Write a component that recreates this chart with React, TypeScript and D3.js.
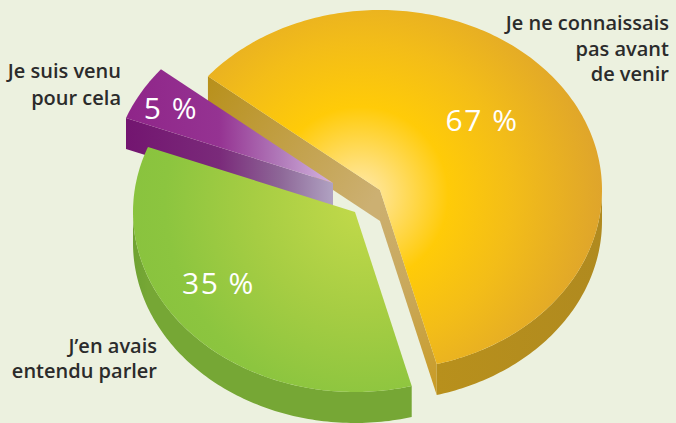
import React from "react";
import * as d3 from "d3";

// ---------- data ----------
const categories = [
  "Je ne connaissais pas avant de venir",
  "J’en avais entendu parler",
  "Je suis venu pour cela",
];
const percentLabels = [67, 35, 5];
// angular share of each slice as measured on the picture
const sliceShares = [60, 35, 5];
const categoryLines = [
  ["Je ne connaissais", "pas avant", "de venir"],
  ["J’en avais", "entendu parler"],
  ["Je suis venu", "pour cela"],
];

// ---------- layout ----------
const W = 676;
const H = 423;
const RX = 222;
const RY = 180;
const DEPTH = 31;
const BASE = { x: 380, y: 190 };
const START = (-50.8 * Math.PI) / 180;
const explode = [
  [0, 0],
  [-25, 22],
  [-47, -7],
];
const labelPolar = [
  { a: 50, r: 0.6 },
  { a: 237.4, r: 0.73 },
  { a: 299.6, r: 0.84 },
];
const catLabelPos = [
  { x: 669, y: 30, dy: 25.5 },
  { x: 157, y: 353, dy: 25 },
  { x: 121, y: 78, dy: 26.5 },
];

const toRad = (d: number) => (d * Math.PI) / 180;

export default function App() {
  const pie = d3
    .pie<number>()
    .sort(null)
    .startAngle(START)
    .endAngle(START + 2 * Math.PI)(sliceShares);

  const line = d3.line<[number, number]>();

  const slices = pie.map((p, i) => {
    const cx = BASE.x + explode[i][0];
    const cy = BASE.y + explode[i][1];
    const pt = (a: number, dz = 0): [number, number] => [
      cx + RX * Math.sin(a),
      cy - RY * Math.cos(a) + dz,
    ];
    const arcPts = (a0: number, a1: number, dz = 0) => {
      const n = Math.max(2, Math.ceil((Math.abs(a1 - a0) * 180) / Math.PI));
      return d3.range(n + 1).map((k) => pt(a0 + ((a1 - a0) * k) / n, dz));
    };
    const top =
      line([[cx, cy], ...arcPts(p.startAngle, p.endAngle)])! + "Z";
    // visible outer rim: angles within [pi/2, 3pi/2]
    const v0 = Math.max(p.startAngle, Math.PI / 2);
    const v1 = Math.min(p.endAngle, (3 * Math.PI) / 2);
    const rim =
      v1 > v0
        ? line([...arcPts(v0, v1), ...arcPts(v1, v0, DEPTH)])! + "Z"
        : null;
    const wall = (a: number) =>
      line([
        [cx, cy],
        pt(a),
        pt(a, DEPTH),
        [cx, cy + DEPTH],
      ])! + "Z";
    const lp = labelPolar[i];
    const la = toRad(lp.a);
    const label = pt(la);
    const lx = cx + (label[0] - cx) * lp.r;
    const ly = cy + (label[1] - cy) * lp.r;
    return {
      i,
      cx,
      cy,
      top,
      rim,
      // radial walls, only when they face the viewer
      wallStart: Math.sin(p.startAngle) < 0 ? wall(p.startAngle) : null,
      wallEnd: Math.sin(p.endAngle) > 0 ? wall(p.endAngle) : null,
      startPt: pt(p.startAngle),
      endPt: pt(p.endAngle),
      lx,
      ly,
    };
  });

  const [Y, G, P] = slices;
  const order = [0, 2, 1];

  const fills = [
    { top: "url(#yTop)", rim: "url(#yRim)", ws: "url(#yWallS)", we: "url(#yWallE)" },
    { top: "url(#gTop)", rim: "url(#gRim)", ws: "#6ea232", we: "#6ea232" },
    { top: "url(#pTop)", rim: "#7a1a76", ws: "url(#pWall)", we: "#7a1a76" },
  ];

  return (
    <svg
      width={W}
      height={H}
      viewBox={`0 0 ${W} ${H}`}
      style={{ position: "absolute", left: 0, top: 0, display: "block" }}
    >
      <defs>
        <radialGradient
          id="yTop"
          gradientUnits="userSpaceOnUse"
          cx={Y.cx - 20}
          cy={Y.cy + 5}
          r={245}
        >
          <stop offset="0" stopColor="#ffeaae" />
          <stop offset="0.12" stopColor="#ffe07a" />
          <stop offset="0.36" stopColor="#ffcb08" />
          <stop offset="0.62" stopColor="#f3bd18" />
          <stop offset="1" stopColor="#dea42c" />
        </radialGradient>
        <linearGradient id="yRim" gradientUnits="userSpaceOnUse" x1={Y.endPt[0]} y1={0} x2={Y.cx + RX} y2={0}>
          <stop offset="0" stopColor="#b8901c" />
          <stop offset="1" stopColor="#b08a1f" />
        </linearGradient>
        <linearGradient id="yWallS" gradientUnits="userSpaceOnUse" x1={Y.startPt[0]} y1={Y.startPt[1]} x2={Y.cx} y2={Y.cy}>
          <stop offset="0" stopColor="#b8901a" />
          <stop offset="0.6" stopColor="#c4a350" />
          <stop offset="1" stopColor="#ccb072" />
        </linearGradient>
        <linearGradient id="yWallE" gradientUnits="userSpaceOnUse" x1={Y.cx} y1={Y.cy} x2={Y.endPt[0]} y2={Y.endPt[1] + DEPTH}>
          <stop offset="0" stopColor="#ccb072" />
          <stop offset="0.5" stopColor="#c9a85a" />
          <stop offset="1" stopColor="#c99b22" />
        </linearGradient>
        <radialGradient
          id="gTop"
          gradientUnits="userSpaceOnUse"
          cx={G.cx + 10}
          cy={G.cy - 10}
          r={250}
        >
          <stop offset="0" stopColor="#c3da4a" />
          <stop offset="0.45" stopColor="#a6cd43" />
          <stop offset="0.8" stopColor="#8cc53f" />
          <stop offset="1" stopColor="#88c23e" />
        </radialGradient>
        <linearGradient id="gRim" gradientUnits="userSpaceOnUse" x1={G.cx - RX} y1={0} x2={G.endPt[0]} y2={0}>
          <stop offset="0" stopColor="#6fa232" />
          <stop offset="1" stopColor="#76a735" />
        </linearGradient>
        <linearGradient id="pTop" gradientUnits="userSpaceOnUse" x1={P.startPt[0]} y1={0} x2={P.cx} y2={0}>
          <stop offset="0" stopColor="#8f2589" />
          <stop offset="0.45" stopColor="#953392" />
          <stop offset="0.75" stopColor="#b17bba" />
          <stop offset="1" stopColor="#d4b4e0" />
        </linearGradient>
        <linearGradient id="pWall" gradientUnits="userSpaceOnUse" x1={P.startPt[0]} y1={0} x2={P.cx} y2={0}>
          <stop offset="0" stopColor="#731570" />
          <stop offset="0.45" stopColor="#7a2a7a" />
          <stop offset="0.75" stopColor="#8e6898" />
          <stop offset="1" stopColor="#b0a2c2" />
        </linearGradient>
      </defs>
      <rect x={0} y={0} width={W} height={H} fill="#ecf1df" />
      {order.map((k) => {
        const s = slices[k];
        const f = fills[k];
        return (
          <g key={k}>
            {s.wallStart && <path d={s.wallStart} fill={f.ws} />}
            {s.wallEnd && <path d={s.wallEnd} fill={f.we} />}
            {s.rim && <path d={s.rim} fill={f.rim} />}
            <path d={s.top} fill={f.top} />
          </g>
        );
      })}
      {slices.map((s, i) => (
        <text
          key={"p" + i}
          x={s.lx}
          y={s.ly}
          dy="0.36em"
          textAnchor="middle"
          fill="#ffffff"
          fontFamily="'Open Sans', 'DejaVu Sans', sans-serif"
          fontWeight={500}
          fontSize={30}
          letterSpacing={1.5}
        >
          {`${percentLabels[i]} %`}
        </text>
      ))}
      {categoryLines.map((lines, i) => (
        <text
          key={"c" + i}
          textAnchor="end"
          fill="#2b2b2b"
          fontFamily="'Open Sans', 'DejaVu Sans', sans-serif"
          fontWeight={600}
          fontSize={20}
          aria-label={categories[i]}
        >
          {lines.map((t, j) => (
            <tspan key={j} x={catLabelPos[i].x} y={catLabelPos[i].y + j * catLabelPos[i].dy}>
              {t}
            </tspan>
          ))}
        </text>
      ))}
    </svg>
  );
}
